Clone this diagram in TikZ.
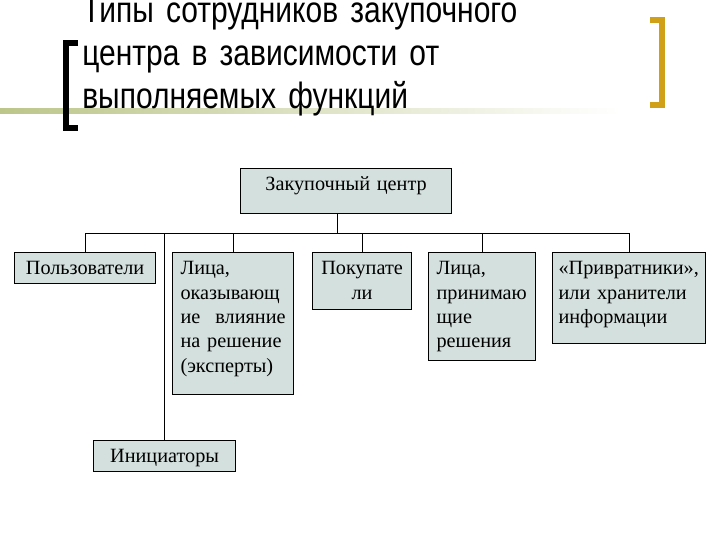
\documentclass[tikz,border=0pt]{standalone}
\usepackage{fontspec}
\setmainfont{Liberation Serif}
\newfontfamily\headfont[FakeStretch=0.82,WordSpace=0.75]{Liberation Sans}
\definecolor{boxfill}{RGB}{212,224,222}
\definecolor{bracketgold}{RGB}{208,160,24}
\definecolor{bandgreen}{RGB}{188,198,138}
\tikzset{
  unit/.style={draw,line width=0.8pt,fill=boxfill,anchor=north west,
    inner xsep=0.2cm,inner ysep=0.1cm,text height=0.45cm,align=left,
    font=\fontsize{14.4}{17.4}\selectfont},
  link/.style={line width=0.6pt}
}

\begin{document}
\begin{tikzpicture}[x=0.025cm,y=-0.025cm]
  \useasboundingbox (0,0) rectangle (720,540);
  % title with brackets
  \shade[left color=bandgreen,middle color=bandgreen!55,right color=white] (0,108) rectangle (620,113);
  \draw[line width=0.15cm,miter limit=10] (78,43) -- (66,43) -- (66,128) -- (78,128);
  \draw[line width=0.14cm,bracketgold] (650,20) -- (662,20) -- (662,105) -- (650,105);
  \node[anchor=base west,inner sep=0,text width=14cm,align=left,
    font=\headfont\fontsize{26}{30.6}\selectfont] (title) at (82,22)
    {Типы сотрудников закупочного\\центра в зависимости от\\выполняемых функций};
  % boxes
  \node[unit,align=center,text width=4.875cm,text depth=0.475cm] (top) at (240,168) {Закупочный центр};
  \node[unit,align=center,text width=3.125cm,text depth=0.125cm] (users) at (14,252) {Пользователи};
  \node[unit,text width=2.625cm,text depth=2.9cm] (experts) at (172,252)
    {Лица,\\оказывающ\\ие \hfill влияние\\на решение\\(эксперты)};
  \node[unit,align=center,text width=2.075cm,text depth=0.775cm] (buyers) at (312,252) {Покупате\\ли};
  \node[unit,text width=2.275cm,text depth=2.05cm] (deciders) at (428,252)
    {Лица,\\принимаю\\щие\\решения};
  \node[unit,inner xsep=0.15cm,text width=3.525cm,text depth=1.625cm] (gatekeepers) at (552,252)
    {«Привратники»,\\или хранители\\информации};
  \node[unit,align=center,text width=3.15cm,text depth=0.125cm] (initiators) at (93,440) {Инициаторы};
  % connectors
  \coordinate (hub) at (337,233);
  \draw[link] (top.south -| hub) -- (hub);
  \draw[link] (users.north |- hub) -- (gatekeepers.north |- hub);
  \foreach \n in {users,experts,buyers,deciders,gatekeepers,initiators}
    \draw[link] (\n.north) -- (\n.north |- hub);
\end{tikzpicture}
\end{document}
